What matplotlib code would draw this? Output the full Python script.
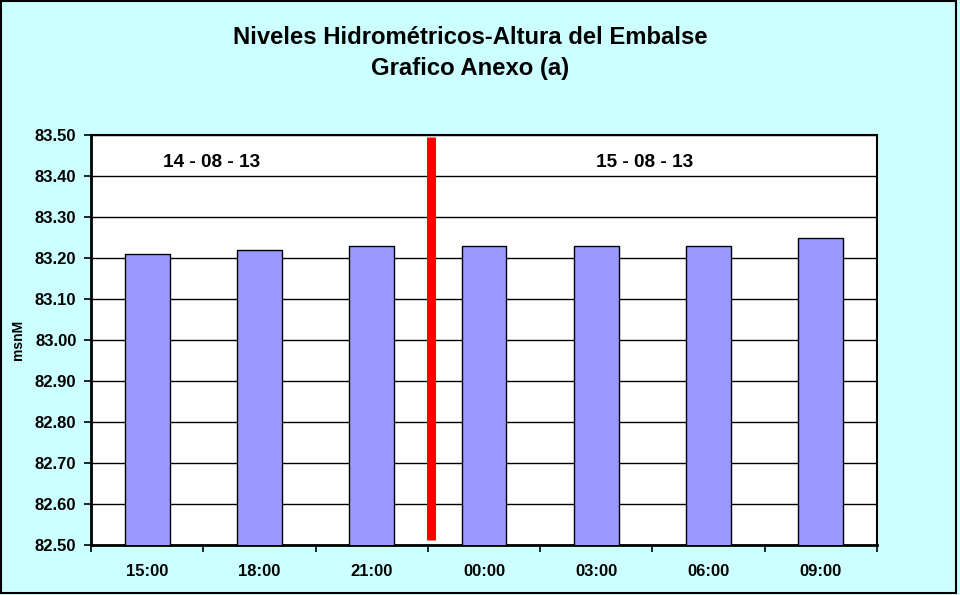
import matplotlib
matplotlib.use("Agg")
import matplotlib.pyplot as plt
from matplotlib.patches import Rectangle
from matplotlib.ticker import FixedLocator
import numpy as np

plt.rcParams['font.family'] = ['Liberation Sans', 'DejaVu Sans']

categories = ["15:00", "18:00", "21:00", "00:00", "03:00", "06:00", "09:00"]
values = [83.21, 83.22, 83.23, 83.23, 83.23, 83.23, 83.25]
y_ticks = [82.50, 82.60, 82.70, 82.80, 82.90, 83.00, 83.10, 83.20, 83.30, 83.40, 83.50]
day_labels = ["14 - 08 - 13", "15 - 08 - 13"]
title_lines = ["Niveles Hidrométricos-Altura del Embalse", "Grafico Anexo (a)"]
y_label = "msnM"

W, H = 960, 595
fig = plt.figure(figsize=(W / 100, H / 100), dpi=100)
fig.patch.set_facecolor("#CCFFFF")

ax = fig.add_axes([91 / W, (H - 545) / H, (877 - 91) / W, 410 / H])
ax.set_facecolor("white")
x = np.arange(len(categories))
ax.bar(x, values, width=0.40, bottom=0, color="#9999FF", edgecolor="black",
       linewidth=1.0, zorder=3)
ax.set_ylim(y_ticks[0], y_ticks[-1])
ax.set_xlim(-0.5, len(categories) - 0.5)

ax.set_yticks(y_ticks)
ax.set_yticklabels([f"{v:.2f}" for v in y_ticks], fontsize=12, fontweight="bold")
ax.set_xticks(x)
ax.set_xticklabels(categories, fontsize=12, fontweight="bold")
ax.xaxis.set_minor_locator(FixedLocator(np.arange(-0.5, len(categories), 1.0)))
ax.tick_params(axis="x", which="major", length=0, pad=14)
ax.tick_params(axis="x", which="minor", length=5, width=1.2, direction="out")
ax.tick_params(axis="y", which="major", length=5, width=1.2, direction="out", pad=5.5)

ax.grid(axis="y", color="black", linewidth=1.0, zorder=1)
ax.set_axisbelow(True)
for s in ["left", "bottom"]:
    ax.spines[s].set_linewidth(2.0)
for s in ["top", "right"]:
    ax.spines[s].set_linewidth(1.5)

# separator between days
ax.vlines(2.53, 82.512, 83.495, color="red", linewidth=6.5, zorder=4)

ax.text(0.577, 83.434, day_labels[0], fontsize=13.7, fontweight="bold",
        ha="center", va="center")
ax.text(4.43, 83.434, day_labels[1], fontsize=13.7, fontweight="bold",
        ha="center", va="center")

fig.text(18 / W, 1 - 340 / H, y_label, rotation=90, fontsize=10,
         fontweight="bold", ha="center", va="center")

fig.text(470 / W, 1 - 37 / H, title_lines[0], fontsize=17.2, fontweight="bold",
         ha="center", va="center")
fig.text(470 / W, 1 - 69 / H, title_lines[1], fontsize=17.2, fontweight="bold",
         ha="center", va="center")

# outer frame
fig.patches.append(Rectangle((1 / W, 2 / H), 955 / W, 592 / H,
                             transform=fig.transFigure, fill=False,
                             edgecolor="black", linewidth=1.5))

fig.savefig("out.png", dpi=100, facecolor=fig.get_facecolor())
